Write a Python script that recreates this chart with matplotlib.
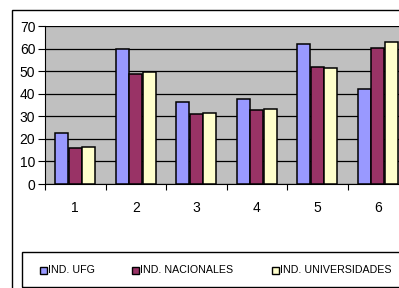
import numpy as np
import matplotlib.pyplot as plt
from matplotlib.patches import Rectangle

categories = ['1', '2', '3', '4', '5', '6']
ind_ufg = [22.5, 59.7, 36.5, 37.8, 61.9, 42.0]
ind_nacionales = [16.1, 48.7, 30.9, 32.8, 51.9, 60.4]
ind_universidades = [16.4, 49.6, 31.5, 33.2, 51.6, 62.9]
series_names = ['IND. UFG', 'IND. NACIONALES', 'IND. UNIVERSIDADES']
colors = ['#9999FF', '#993366', '#FFFFCC']

W, H = 399, 288
fig = plt.figure(figsize=(W / 100, H / 100), dpi=100)
fig.patch.set_facecolor('white')

# outer chart frame (cropped on the right and bottom like the original)
fig.add_artist(Rectangle((12 / W, -0.1), 1.2, 1 - 10 / H + 0.1, transform=fig.transFigure,
                         fill=False, edgecolor='black', lw=1.0))

# plot area runs past the right edge of the picture
ax = fig.add_axes([45 / W, 1 - 184 / H, 363 / W, 158 / H])
ax.set_facecolor('#C0C0C0')

x = np.arange(len(categories))
w = 0.223
for i, (vals, c) in enumerate(zip([ind_ufg, ind_nacionales, ind_universidades], colors)):
    ax.bar(x + (i - 1) * w, vals, width=w * 0.95, color=c, edgecolor='black', lw=1.1, zorder=3)

ax.set_xlim(-0.5, len(categories) - 0.5)
ax.set_ylim(0, 70)
ax.set_yticks(range(0, 71, 10))
ax.yaxis.grid(True, color='black', lw=0.9, zorder=0)
ax.set_axisbelow(True)

ax.set_xticks(np.arange(len(categories) + 1) - 0.5)
ax.set_xticklabels([])
ax.set_xticks(x, minor=True)
ax.set_xticklabels(categories, minor=True)
ax.tick_params(axis='x', which='minor', length=0, pad=12)
ax.tick_params(axis='x', which='major', length=4, direction='out', color='black')
ax.tick_params(axis='y', length=5, pad=2, color='black')

for lab in ax.get_xticklabels(minor=True) + ax.get_yticklabels():
    lab.set_family(['Liberation Sans', 'DejaVu Sans'])
    lab.set_fontsize(10)

for s in ['top', 'right']:
    ax.spines[s].set_visible(False)
ax.spines['left'].set_color('black')
ax.spines['bottom'].set_color('black')

# legend box
fig.add_artist(Rectangle((22 / W, 1 - 286.5 / H), 1.2, 35 / H, transform=fig.transFigure,
                         fill=False, edgecolor='black', lw=1.0))
leg_x = [40, 132, 272]
for name, c, lx in zip(series_names, colors, leg_x):
    fig.add_artist(Rectangle((lx / W, 1 - 273.5 / H), 7 / W, 7 / H, transform=fig.transFigure,
                             facecolor=c, edgecolor='black', lw=1.0))
    fig.text((lx + 8.5) / W, 1 - 270 / H, name, fontsize=7.7, va='center', ha='left',
             family=['Liberation Sans', 'DejaVu Sans'])

fig.savefig('out.png', dpi=100)
